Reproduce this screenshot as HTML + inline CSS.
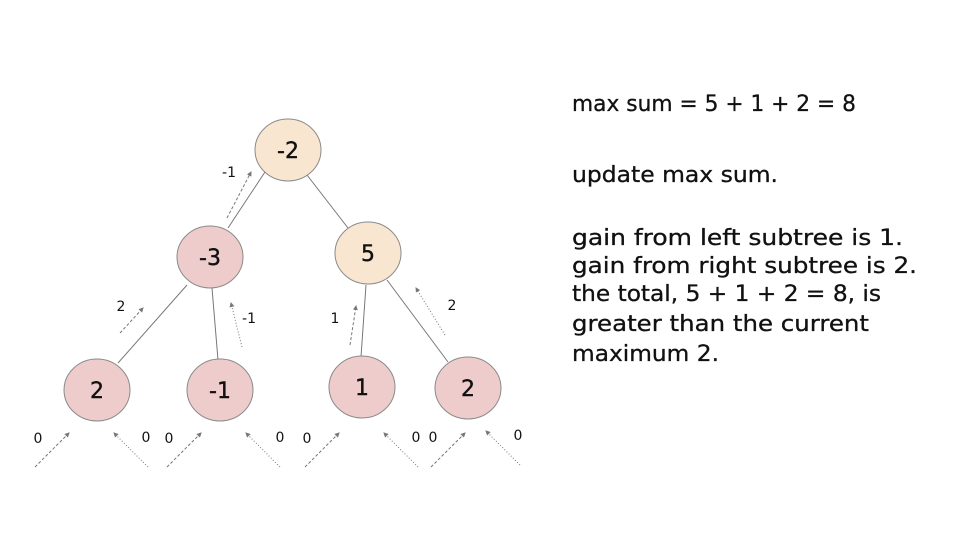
<!DOCTYPE html>
<html><head><meta charset="utf-8"><style>html,body{margin:0;padding:0;background:#fff}svg{display:block}</style></head>
<body>
<svg width="960" height="540" viewBox="0 0 960 540" xmlns="http://www.w3.org/2000/svg" font-family="DejaVu Sans, Liberation Sans, sans-serif">
<defs>
<marker id="a" markerWidth="5" markerHeight="5" refX="4" refY="2.5" orient="auto" markerUnits="userSpaceOnUse"><path d="M0,0 L5,2.5 L0,5 z" fill="#777"/></marker>
</defs>
<g stroke="#777" stroke-width="1">
<line x1="265" y1="172" x2="228" y2="228"/>
<line x1="307" y1="175" x2="348" y2="228"/>
<line x1="187" y1="285" x2="118" y2="363"/>
<line x1="212" y1="288" x2="218" y2="360"/>
<line x1="366" y1="285" x2="361" y2="357"/>
<line x1="387" y1="280" x2="448" y2="362"/>
</g>
<g stroke="#777" stroke-width="1" stroke-dasharray="3,2" fill="none" marker-end="url(#a)">
<line x1="227" y1="218" x2="251" y2="172"/>
<line x1="120" y1="333" x2="143" y2="308"/>
<line x1="242" y1="347" x2="231" y2="303" stroke-dasharray="1,2"/>
<line x1="350" y1="345" x2="356" y2="306"/>
<line x1="445" y1="335" x2="416" y2="288" stroke-dasharray="1,2"/>
<line x1="35" y1="467" x2="69" y2="433"/>
<line x1="148" y1="467" x2="114" y2="433" stroke-dasharray="1,2"/>
<line x1="167" y1="467" x2="201" y2="433"/>
<line x1="280" y1="467" x2="246" y2="433" stroke-dasharray="1,2"/>
<line x1="305" y1="467" x2="339" y2="433"/>
<line x1="418" y1="467" x2="384" y2="433" stroke-dasharray="1,2"/>
<line x1="431" y1="467" x2="465" y2="433"/>
<line x1="520" y1="465" x2="486" y2="431" stroke-dasharray="1,2"/>
</g>
<g stroke="#8a8a8a" stroke-width="1">
<ellipse cx="288" cy="150" rx="33" ry="31" fill="#f9e6d0"/>
<ellipse cx="210" cy="257" rx="33" ry="31" fill="#eecccc"/>
<ellipse cx="368" cy="253" rx="33" ry="31" fill="#f9e6d0"/>
<ellipse cx="97" cy="390" rx="33" ry="31" fill="#eecccc"/>
<ellipse cx="220" cy="390" rx="33" ry="31" fill="#eecccc"/>
<ellipse cx="362" cy="387" rx="33" ry="31" fill="#eecccc"/>
<ellipse cx="468" cy="388" rx="33" ry="31" fill="#eecccc"/>
</g>
<g font-size="22" text-anchor="middle" fill="#111" stroke="#111" stroke-width="0.4">
<text x="288" y="158">-2</text>
<text x="210" y="265">-3</text>
<text x="368" y="261">5</text>
<text x="97" y="398">2</text>
<text x="220" y="398">-1</text>
<text x="362" y="395">1</text>
<text x="468" y="396">2</text>
</g>
<g font-size="14" text-anchor="middle" fill="#111">
<text x="229" y="177">-1</text>
<text x="121" y="311">2</text>
<text x="249" y="323">-1</text>
<text x="335" y="323">1</text>
<text x="452" y="310">2</text>
<text x="38" y="443">0</text>
<text x="146" y="442">0</text>
<text x="169" y="443">0</text>
<text x="280" y="442">0</text>
<text x="307" y="443">0</text>
<text x="416" y="442">0</text>
<text x="433" y="442">0</text>
<text x="518" y="440">0</text>
</g>
<g font-size="22" fill="#111" stroke="#111" stroke-width="0.3">
<text x="572" y="111" textLength="284" lengthAdjust="spacingAndGlyphs">max sum = 5 + 1 + 2 = 8</text>
<text x="572" y="182" textLength="206" lengthAdjust="spacingAndGlyphs">update max sum.</text>
<text x="572" y="245" textLength="331" lengthAdjust="spacingAndGlyphs">gain from left subtree is 1.</text>
<text x="572" y="273" textLength="345" lengthAdjust="spacingAndGlyphs">gain from right subtree is 2.</text>
<text x="572" y="301" textLength="309" lengthAdjust="spacingAndGlyphs">the total, 5 + 1 + 2 = 8, is</text>
<text x="572" y="331" textLength="297" lengthAdjust="spacingAndGlyphs">greater than the current</text>
<text x="572" y="361" textLength="147" lengthAdjust="spacingAndGlyphs">maximum 2.</text>
</g>
</svg>
</body></html>
